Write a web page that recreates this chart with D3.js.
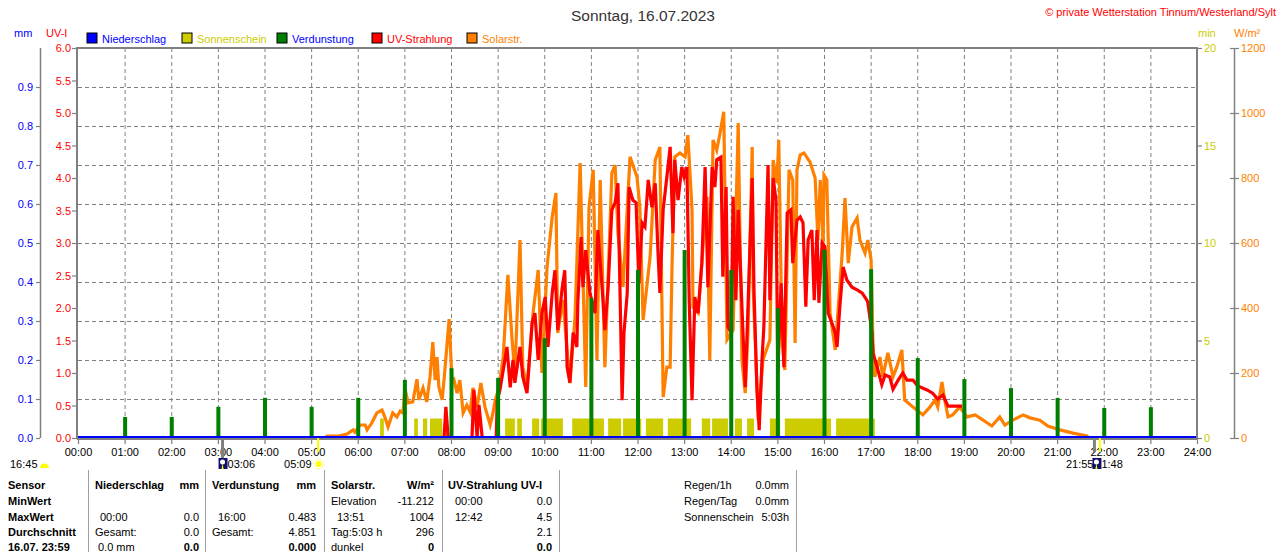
<!DOCTYPE html>
<html>
<head>
<meta charset="UTF-8">
<style>
  body { margin: 0; padding: 0; background: #fff; }
  svg { display: block; background: #fff; font-family: "Liberation Sans", Arial, sans-serif; }
  .tbl text { font-size: 11px; fill: #000; }
  .tbl text.b { font-weight: bold; }
</style>
</head>
<body>
<svg id="chart" width="1280" height="552"></svg>
<script src="https://d3js.org/d3.v7.min.js"></script>
<script>
// ---- data ----
const hourTicks = [0,1,2,3,4,5,6,7,8,9,10,11,12,13,14,15,16,17,18,19,20,21,22,23,24];
const uvTicks = [0,0.5,1,1.5,2,2.5,3,3.5,4,4.5,5,5.5,6];
const mmTicks = [0,0.1,0.2,0.3,0.4,0.5,0.6,0.7,0.8,0.9];
const minTicks = [0,5,10,15,20];
const solTicks = [0,200,400,600,800,1000,1200];

// Niederschlag (mm) - nothing all day
const rainT = [0, 24];
const rainMM = [0, 0];

// Verdunstung per hour (mm)
const evapHour = [1,2,3,4,5,6,7,8,9,10,11,12,13,14,15,16,17,18,19,20,21,22,23];
const evapMM = [0.054,0.054,0.080,0.103,0.080,0.103,0.149,0.179,0.154,0.256,0.359,0.431,0.482,0.431,0.333,0.483,0.433,0.205,0.151,0.128,0.103,0.077,0.079];

// Sonnenschein blocks (hours) and minutes per block
const sunStart = [6.48,7.21,7.40,7.55,7.87,9.16,9.42,9.74,9.93,10.60,11.37,11.69,12.18,12.65,13.38,13.60,14.09,14.35,14.84,15.16,16.26];
const sunEnd   = [6.56,7.29,7.49,7.81,7.91,9.37,9.52,9.89,10.40,11.28,11.65,12.08,12.55,13.15,13.56,13.94,14.24,14.50,15.06,16.15,17.09];
const sunMin = 1;

// Solarstrahlung (W/m²)
const solarT = [5.32,5.34,5.58,5.77,5.90,5.94,6.05,6.16,6.20,6.30,6.41,6.52,6.58,6.65,6.75,6.84,6.91,6.97,7.01,7.08,
  7.18,7.27,7.31,7.40,7.48,7.55,7.61,7.66,7.70,7.74,7.81,7.85,7.91,7.96,8.02,8.06,8.13,8.19,8.26,8.34,
  8.41,8.47,8.56,8.64,8.73,8.84,8.90,8.95,9.02,9.12,9.22,9.31,9.37,9.48,9.54,9.63,9.76,9.87,9.95,10.06,
  10.17,10.25,10.29,10.40,10.55,10.66,10.77,10.89,10.96,11.05,11.13,11.20,11.30,11.45,11.52,11.58,11.69,11.84,11.99,12.05,
  12.12,12.27,12.38,12.48,12.55,12.63,12.70,12.74,12.80,12.91,13.02,13.08,13.17,13.19,13.30,13.40,13.49,13.55,13.62,13.70,
  13.77,13.85,13.92,14.05,14.16,14.24,14.31,14.37,14.46,14.48,14.59,14.69,14.84,14.91,14.99,15.03,15.10,15.16,15.25,15.33,
  15.38,15.42,15.49,15.57,15.70,15.81,15.87,15.92,15.98,16.00,16.06,16.13,16.24,16.39,16.45,16.52,16.60,16.71,16.77,16.88,
  16.94,17.01,17.05,17.09,17.20,17.26,17.37,17.48,17.56,17.67,17.73,17.91,18.12,18.27,18.38,18.44,18.53,18.59,18.66,18.76,
  18.91,19.07,19.24,19.34,19.60,19.77,19.88,20.05,20.27,20.42,20.63,20.80,21.06,21.34,21.64,21.66];
const solarW = [0,6,6,12,25,18,40,40,25,46,77,86,65,34,77,65,83,77,154,108,
  111,181,117,154,111,188,295,178,249,157,117,178,280,366,178,181,138,178,77,101,
  80,154,95,169,95,40,77,117,150,249,502,302,200,609,218,157,385,517,200,526,
  680,754,323,425,169,372,846,157,711,825,240,794,218,815,840,631,465,865,803,711,
  363,557,855,895,126,218,218,526,865,877,865,932,702,403,385,578,742,240,917,886,
  938,1004,302,332,969,240,138,323,895,465,55,240,302,855,785,917,302,209,825,794,
  292,825,871,877,849,800,609,794,588,809,794,385,271,569,738,538,649,677,609,569,
  609,548,292,188,249,188,262,188,218,271,117,95,71,95,117,95,172,117,65,71,
  95,65,71,62,37,65,40,55,71,62,55,37,25,15,6,3];

// UV-Strahlung (UV-I)
const uvT = [7.85,7.89,7.94,8.45,8.49,8.56,8.60,8.67,8.97,8.99,9.05,9.13,9.20,9.27,9.33,9.37,9.48,9.54,9.63,9.74,
  9.80,9.87,9.95,10.02,10.08,10.17,10.23,10.29,10.38,10.44,10.49,10.55,10.62,10.70,10.72,10.79,10.83,10.89,10.98,11.09,
  11.15,11.26,11.30,11.37,11.45,11.52,11.58,11.67,11.71,11.78,11.82,11.90,11.97,12.03,12.10,12.16,12.23,12.31,12.38,12.44,
  12.48,12.55,12.63,12.70,12.76,12.80,12.87,12.95,13.00,13.06,13.11,13.17,13.23,13.30,13.38,13.45,13.51,13.60,13.66,13.70,
  13.79,13.83,13.90,13.94,14.01,14.05,14.11,14.16,14.24,14.31,14.37,14.46,14.50,14.56,14.61,14.67,14.71,14.80,14.84,14.91,
  14.97,15.01,15.08,15.14,15.21,15.29,15.33,15.42,15.49,15.55,15.61,15.66,15.74,15.79,15.85,15.89,15.96,16.02,16.09,16.17,
  16.24,16.28,16.34,16.41,16.49,16.60,16.71,16.82,16.92,16.94,17.03,17.05,17.14,17.24,17.31,17.41,17.48,17.59,17.69,17.78,
  17.91,18.01,18.21,18.33,18.44,18.55,18.66,18.96];
const uvI = [0,0.48,0,0,0.74,0,0.51,0,0,0.58,0.74,1.09,1.40,0.78,1.20,0.85,1.40,0.94,0.69,1.78,
  1.92,1.20,1.92,2.17,1.40,2.23,2.58,1.66,2.28,2.58,1.09,0.85,1.62,1.40,2.08,3.09,2.32,2.89,2.23,1.92,
  3.20,2.12,1.66,2.32,3.51,3.62,3.92,0.58,1.62,2.23,3.86,3.66,3.62,2.38,3.31,3.25,3.97,3.55,3.92,2.85,
  2.23,3.51,4.02,4.48,3.15,4.28,3.66,4.17,4.02,4.17,2.08,0.58,2.17,1.92,2.69,4.17,2.32,4.17,3.86,4.28,
  4.32,2.48,3.86,1.71,1.62,3.71,2.12,3.51,2.02,0.78,2.02,4.00,2.23,0.78,0.12,1.20,1.71,4.20,2.12,4.00,
  3.66,1.00,2.38,1.09,3.46,3.51,2.69,3.35,3.40,3.31,2.02,3.05,3.20,2.12,3.20,2.08,3.00,2.94,1.92,1.77,
  1.62,1.40,2.02,2.63,2.43,2.32,2.28,2.23,2.12,2.08,1.62,1.31,1.09,0.82,0.97,0.94,0.75,0.89,1.00,0.89,
  0.89,0.80,0.74,0.69,0.60,0.66,0.49,0.49];

// sun / moon times below the axis
const sunTimes = ["05:09", "21:55"];
const moonTimes = ["03:06", "21:48"];
const dayLength = "16:45";

// legend
const legendNames = ["Niederschlag", "Sonnenschein", "Verdunstung", "UV-Strahlung", "Solarstr."];
const legendFill  = ["#0000ff", "#cccc00", "#008000", "#ff0000", "#ff8000"];
const legendText  = ["#0000ff", "#cccc00", "#0000ff", "#ff0000", "#ff8000"];

// table
const tblRowNames = ["Sensor", "MinWert", "MaxWert", "Durchschnitt", "16.07. 23:59"];
const tblNieder = [["Niederschlag","mm"],["",""],["00:00","0.0"],["Gesamt:","0.0"],["0.0 mm","0.0"]];
const tblVerd   = [["Verdunstung","mm"],["",""],["16:00","0.483"],["Gesamt:","4.851"],["","0.000"]];
const tblSolar  = [["Solarstr.","W/m²"],["Elevation","-11.212"],["13:51","1004"],["Tag:5:03 h","296"],["dunkel","0"]];
const tblUV     = [["UV-Strahlung UV-I",""],["00:00","0.0"],["12:42","4.5"],["","2.1"],["","0.0"]];
const tblRegen  = [["Regen/1h","0.0mm"],["Regen/Tag","0.0mm"],["Sonnenschein","5:03h"]];

// ---- drawing ----
const svg = d3.select("#chart");
const L = 78, R = 1197, T = 48, B = 438;
const grey = "#808080";

const x = d3.scaleLinear().domain([0, 24]).range([L, R]);
const yUV = d3.scaleLinear().domain([0, 6]).range([B, T]);
const yMM = d3.scaleLinear().domain([0, 1]).range([B, T]);
const yMin = d3.scaleLinear().domain([0, 20]).range([B, T]);
const ySol = d3.scaleLinear().domain([0, 1200]).range([B, T]);

const hm = s => { const p = s.split(":"); return +p[0] + p[1] / 60; };

// title and copyright
svg.append("text").attr("x", 643).attr("y", 21).attr("text-anchor", "middle")
  .attr("font-size", 15.5).attr("fill", "#333").text("Sonntag, 16.07.2023");
svg.append("text").attr("x", 1276).attr("y", 16).attr("text-anchor", "end")
  .attr("font-size", 11).attr("fill", "#ff0000").text("© private Wetterstation Tinnum/Westerland/Sylt");

// unit labels
[["mm", 14, "#0000ff"], ["UV-I", 46, "#ff0000"], ["min", 1198, "#cccc00"], ["W/m²", 1234, "#ff8000"]]
  .forEach(u => svg.append("text").attr("x", u[1]).attr("y", 37).attr("font-size", 11).attr("fill", u[2]).text(u[0]));

// legend
const lx = [87, 182, 277, 372, 467];
const leg = svg.append("g").selectAll("g").data(legendNames).enter().append("g")
  .attr("transform", (d, i) => `translate(${lx[i]},33)`);
leg.append("rect").attr("width", 10).attr("height", 10).attr("fill", (d, i) => legendFill[i])
  .attr("stroke", "#000").attr("stroke-width", 1);
leg.append("text").attr("x", 15).attr("y", 9.5).attr("font-size", 11)
  .attr("fill", (d, i) => legendText[i]).text(d => d);

// grid
const grid = svg.append("g").attr("stroke", grey).attr("stroke-dasharray", "4,3").attr("stroke-width", 1);
grid.selectAll("line.v").data(hourTicks.slice(1, -1)).enter().append("line")
  .attr("x1", d => x(d) + 0.5).attr("x2", d => x(d) + 0.5).attr("y1", T).attr("y2", B);
grid.selectAll("line.h").data(mmTicks.slice(1)).enter().append("line")
  .attr("x1", L).attr("x2", R).attr("y1", d => Math.round(yMM(d)) + 0.5).attr("y2", d => Math.round(yMM(d)) + 0.5);

// sunshine blocks
svg.append("g").selectAll("rect").data(sunStart).enter().append("rect")
  .attr("x", d => x(d)).attr("width", (d, i) => x(sunEnd[i]) - x(d))
  .attr("y", yMin(sunMin)).attr("height", B - yMin(sunMin)).attr("fill", "#cccc00");

// solar radiation
const solarPts = solarT.map((t, i) => [t, solarW[i]]);
svg.append("path").datum(solarPts)
  .attr("d", d3.line().x(d => x(d[0])).y(d => ySol(d[1])))
  .attr("fill", "none").attr("stroke", "#ff8000").attr("stroke-width", 3.2).attr("stroke-linejoin", "miter");

// UV
const uvPts = uvT.map((t, i) => [t, uvI[i]]);
svg.append("path").datum(uvPts)
  .attr("d", d3.line().x(d => x(d[0])).y(d => yUV(d[1])))
  .attr("fill", "none").attr("stroke", "#ff0000").attr("stroke-width", 3.2).attr("stroke-linejoin", "miter");

// evaporation bars
svg.append("g").selectAll("rect").data(evapHour).enter().append("rect")
  .attr("x", d => x(d) - 1.5).attr("width", 4)
  .attr("y", (d, i) => yMM(evapMM[i])).attr("height", (d, i) => B - yMM(evapMM[i]))
  .attr("fill", "#008000");

// rain line
svg.append("path").datum(rainT.map((t, i) => [t, rainMM[i]]))
  .attr("d", d3.line().x(d => x(d[0])).y(d => yMM(d[1]) - 1))
  .attr("stroke", "#0000ff").attr("stroke-width", 2).attr("fill", "none");

// frame
const frame = svg.append("g").attr("stroke", grey).attr("stroke-width", 2);
frame.append("line").attr("x1", L - 1).attr("x2", R + 1).attr("y1", T).attr("y2", T);
frame.append("line").attr("x1", L - 1).attr("x2", L - 1).attr("y1", T - 1).attr("y2", B + 1);
frame.append("line").attr("x1", R).attr("x2", R).attr("y1", T - 1).attr("y2", B + 1);
frame.append("line").attr("x1", L - 1).attr("x2", R + 1).attr("y1", B + 1).attr("y2", B + 1);
svg.append("line").attr("x1", 40.5).attr("x2", 40.5).attr("y1", T).attr("y2", B)
  .attr("stroke", grey).attr("stroke-width", 1.5);
svg.append("line").attr("x1", 1234.5).attr("x2", 1234.5).attr("y1", T).attr("y2", B)
  .attr("stroke", grey).attr("stroke-width", 1.5);

function styleAxis(g, color) {
  g.select(".domain").remove();
  g.selectAll(".tick line").attr("stroke", grey).attr("stroke-width", 1.2);
  g.selectAll(".tick text").attr("fill", color);
  g.attr("font-size", 11).attr("font-family", "Liberation Sans, Arial, sans-serif");
}

// left axes
svg.append("g").attr("transform", `translate(${L - 1},0)`)
  .call(d3.axisLeft(yUV).tickValues(uvTicks).tickSize(5).tickPadding(1).tickFormat(d3.format(".1f")))
  .call(g => styleAxis(g, "#ff0000"));
svg.append("g").attr("transform", "translate(40,0)")
  .call(d3.axisLeft(yMM).tickValues(mmTicks).tickSize(4).tickPadding(3).tickFormat(d3.format(".1f")))
  .call(g => styleAxis(g, "#0000ff"));

// right axes
svg.append("g").attr("transform", `translate(${R},0)`)
  .call(d3.axisRight(yMin).tickValues(minTicks).tickSize(5).tickPadding(2).tickFormat(d3.format("d")))
  .call(g => styleAxis(g, "#cccc00"));
svg.append("g").attr("transform", "translate(1230,0)")
  .call(d3.axisRight(ySol).tickValues(solTicks).tickSize(9).tickPadding(2).tickFormat(d3.format("d")))
  .call(g => styleAxis(g, "#ff8000"));

// time axis
svg.append("g").attr("transform", `translate(0,${B})`)
  .call(d3.axisBottom(x).tickValues(hourTicks).tickSize(6).tickPadding(4)
    .tickFormat(d => String(d).padStart(2, "0") + ":00"))
  .call(g => styleAxis(g, "#000"));

// sun / moon markers
const mk = svg.append("g");
mk.append("line").attr("x1", x(hm(moonTimes[0]))).attr("x2", x(hm(moonTimes[0])))
  .attr("y1", B).attr("y2", 458).attr("stroke", grey).attr("stroke-width", 3);
mk.append("line").attr("x1", x(hm(moonTimes[1]))).attr("x2", x(hm(moonTimes[1])))
  .attr("y1", B).attr("y2", 452).attr("stroke", grey).attr("stroke-width", 3);
sunTimes.forEach(t => mk.append("line").attr("x1", x(hm(t))).attr("x2", x(hm(t)))
  .attr("y1", B).attr("y2", 452).attr("stroke", "#ffff00").attr("stroke-width", 2));

// moon icons
function moonIcon(cx) {
  mk.append("rect").attr("x", cx - 4).attr("y", 458).attr("width", 9).attr("height", 11).attr("fill", "#101070");
  mk.append("circle").attr("cx", cx).attr("cy", 462).attr("r", 2.5).attr("fill", "#fff");
  mk.append("path").attr("d", `M${cx - 1},469 L${cx},463 L${cx + 1},469 Z`).attr("fill", "#ffff00");
}
moonIcon(x(hm(moonTimes[0])));
moonIcon(x(hm(moonTimes[1])) + 2);
// sun icon
const sx = x(hm(sunTimes[0])) + 0.5;
mk.append("circle").attr("cx", sx).attr("cy", 464).attr("r", 3).attr("fill", "#ffff00");
mk.append("circle").attr("cx", sx).attr("cy", 464).attr("r", 5).attr("fill", "none")
  .attr("stroke", "#ffff00").attr("stroke-dasharray", "1.5,1.5");
// day length icon
mk.append("path").attr("d", "M40,468 A4.5,4.5 0 0 1 49,468 Z").attr("fill", "#ffff00");

const lab = svg.append("g").attr("font-size", 11).attr("fill", "#000");
lab.append("text").attr("x", 10).attr("y", 468).text(dayLength);
lab.append("text").attr("x", x(hm(moonTimes[0])) + 5).attr("y", 468).text(moonTimes[0]);
lab.append("text").attr("x", sx - 7).attr("y", 468).attr("text-anchor", "end").text(sunTimes[0]);
lab.append("text").attr("x", x(hm(moonTimes[1])) - 1).attr("y", 468).attr("text-anchor", "end").text(sunTimes[1]);
lab.append("text").attr("x", x(hm(moonTimes[1])) + 7).attr("y", 468).text(moonTimes[1].slice(1));

// table
const tbl = svg.append("g").attr("class", "tbl");
const rowY = [489, 505, 521, 536, 551];
tblRowNames.forEach((r, i) => tbl.append("text").attr("class", "b").attr("x", 8).attr("y", rowY[i]).text(r));
[88, 205, 324, 442, 559, 796].forEach(sx2 => tbl.append("line").attr("x1", sx2 + 0.5).attr("x2", sx2 + 0.5)
  .attr("y1", 470).attr("y2", 552).attr("stroke", "#a0a0a0").attr("stroke-width", 1));

function tblCol(rows, left, indent, right) {
  rows.forEach((r, i) => {
    const bold = i === 0 || i === 4;
    if (r[0]) tbl.append("text").attr("class", i === 0 ? "b" : null)
      .attr("x", (i === 2 ? left + indent : left)).attr("y", rowY[i]).text(r[0]);
    if (r[1]) tbl.append("text").attr("class", bold ? "b" : null).attr("x", right).attr("y", rowY[i])
      .attr("text-anchor", "end").text(r[1]);
  });
}
tblCol(tblNieder, 95, 5, 199);
tblCol(tblVerd, 212, 6, 316);
tblCol(tblSolar, 331, 6, 434);
tblCol(tblUV, 455, 0, 552);
tbl.selectAll("text").filter(function () { return this.textContent === "UV-Strahlung UV-I"; }).attr("x", 448);
tbl.selectAll("text").filter(function () { return this.textContent === "0.0 mm"; }).attr("x", 98);
tblRegen.forEach((r, i) => {
  tbl.append("text").attr("x", 684).attr("y", rowY[i]).text(r[0]);
  tbl.append("text").attr("x", 789).attr("y", rowY[i]).attr("text-anchor", "end").text(r[1]);
});
</script>
</body>
</html>
